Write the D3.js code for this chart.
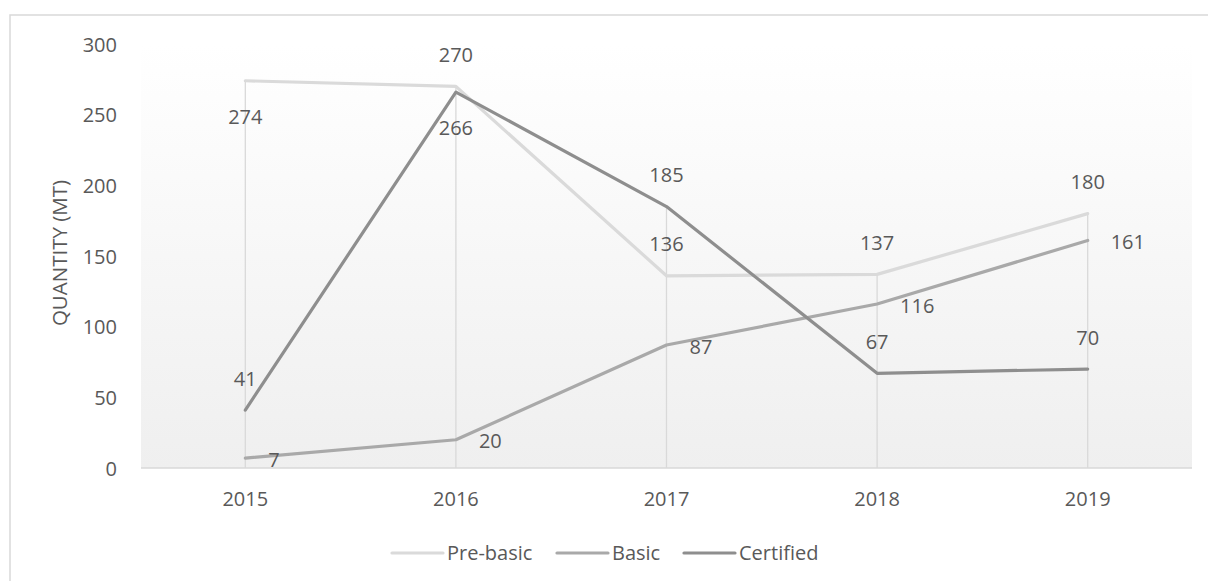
<!DOCTYPE html>
<html>
<head>
<meta charset="utf-8">
<script src="https://cdn.jsdelivr.net/npm/d3@7"></script>
<style>
  html, body { margin: 0; padding: 0; background: #fff; }
  svg { display: block; }
  text { font-family: "Open Sans", sans-serif; fill: #595959; }
</style>
</head>
<body>
<svg id="chart" width="1208" height="581"></svg>
<script>
const years = ["2015", "2016", "2017", "2018", "2019"];
const seriesNames = ["Pre-basic", "Basic", "Certified"];
const preBasic = [274, 270, 136, 137, 180];
const basic = [7, 20, 87, 116, 161];
const certified = [41, 266, 185, 67, 70];
const yTicks = [0, 50, 100, 150, 200, 250, 300];
// label placement for each point: "above", "below", "right"
const preBasicPos = ["below", "above", "above", "above", "above"];
const basicPos = ["right", "right", "right", "right", "right"];
const certifiedPos = ["above", "below", "above", "above", "above"];

(function () {
const colors = ["#dadada", "#a9a9a9", "#8e8e8e"];
const series = [
  { name: seriesNames[0], values: preBasic, pos: preBasicPos, color: colors[0] },
  { name: seriesNames[1], values: basic, pos: basicPos, color: colors[1] },
  { name: seriesNames[2], values: certified, pos: certifiedPos, color: colors[2] }
];

const svg = d3.select("#chart");
const pLeft = 141, pRight = 1192, pTop = 44, pBottom = 468;
const fontSize = 20;

// outer border
svg.append("rect").attr("x", 10).attr("y", 15).attr("width", 1210).attr("height", 600)
  .attr("fill", "#fff").attr("stroke", "#d9d9d9").attr("stroke-width", 1.5);

const defs = svg.append("defs");
const grad = defs.append("linearGradient").attr("id", "bg").attr("x1", 0).attr("y1", 0).attr("x2", 0).attr("y2", 1);
grad.append("stop").attr("offset", "0%").attr("stop-color", "#ffffff");
grad.append("stop").attr("offset", "100%").attr("stop-color", "#efefef");

svg.append("rect").attr("x", pLeft).attr("y", pTop).attr("width", pRight - pLeft).attr("height", pBottom - pTop)
  .attr("fill", "url(#bg)");

const x = d3.scaleBand().domain(years).range([pLeft - 1, pRight + 1]);
const y = d3.scaleLinear().domain([0, 300]).range([pBottom, pTop]);
const cx = d => x(d) + x.bandwidth() / 2;

// drop lines
const g = svg.append("g");
years.forEach((yr, i) => {
  const mx = d3.max(series, s => s.values[i]);
  g.append("line").attr("x1", cx(yr)).attr("x2", cx(yr)).attr("y1", y(mx)).attr("y2", y(0))
    .attr("stroke", "#d9d9d9").attr("stroke-width", 1.3);
});

// x axis line
svg.append("line").attr("x1", pLeft).attr("x2", pRight).attr("y1", y(0)).attr("y2", y(0))
  .attr("stroke", "#d9d9d9").attr("stroke-width", 1.5);

// y axis labels
const yAxis = d3.axisLeft(y).tickValues(yTicks).tickSize(0).tickPadding(0);
const ya = svg.append("g").attr("transform", "translate(117,0)").call(yAxis);
ya.select(".domain").remove();
ya.selectAll("text").attr("font-size", fontSize).attr("font-family", "Open Sans, sans-serif")
  .attr("fill", "#595959").attr("dy", "0.36em");

// x axis labels
const xAxis = d3.axisBottom(x).tickSize(0).tickPadding(0);
const xa = svg.append("g").attr("transform", `translate(0,${y(0)})`).call(xAxis);
xa.select(".domain").remove();
xa.selectAll("text").attr("font-size", fontSize).attr("font-family", "Open Sans, sans-serif")
  .attr("fill", "#595959").attr("dy", null).attr("y", 38);

// y axis title
svg.append("text").attr("transform", "translate(66.5,253) rotate(-90)")
  .attr("text-anchor", "middle").attr("font-size", 20.5).text("QUANTITY (MT)");

// lines
const line = d3.line().x((d, i) => cx(years[i])).y(d => y(d));
series.forEach(s => {
  svg.append("path").datum(s.values).attr("d", line)
    .attr("fill", "none").attr("stroke", s.color).attr("stroke-width", 3.2)
    .attr("stroke-linejoin", "round").attr("stroke-linecap", "round");
});

// data labels
series.forEach(s => {
  s.values.forEach((v, i) => {
    const px = cx(years[i]), py = y(v);
    const p = s.pos[i];
    const t = svg.append("text").attr("font-size", fontSize).text(v);
    if (p === "above") t.attr("x", px).attr("y", py - 24.5).attr("text-anchor", "middle");
    else if (p === "below") t.attr("x", px).attr("y", py + 43).attr("text-anchor", "middle");
    else t.attr("x", px + 23).attr("y", py + 8.5).attr("text-anchor", "start");
  });
});

// legend
const legendX = [392, 557, 684];
const leg = svg.append("g");
series.forEach((s, i) => {
  leg.append("line").attr("x1", legendX[i]).attr("x2", legendX[i] + 51).attr("y1", 553).attr("y2", 553)
    .attr("stroke", s.color).attr("stroke-width", 3.2).attr("stroke-linecap", "round");
  leg.append("text").attr("x", legendX[i] + 55).attr("y", 560).attr("font-size", fontSize).text(s.name);
});
})();
</script>
</body>
</html>
